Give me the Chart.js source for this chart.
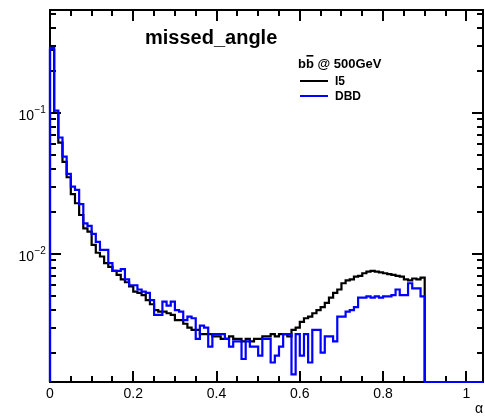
<!DOCTYPE html>
<html>
<head>
<meta charset="utf-8">
<script src="https://cdn.jsdelivr.net/npm/chart.js@4.4.1/dist/chart.umd.min.js"></script>
<style>
  html, body { margin: 0; padding: 0; background: #fff; }
  #wrap { width: 485px; height: 416px; position: relative; }
</style>
</head>
<body>
<div id="wrap"><canvas id="missedAngle"></canvas></div>
<script>
// histogram binning: 90 bins of 0.01 starting at 0
const binWidth = 0.01;

const i5Values = [
  0.28, 0.100, 0.0616, 0.045, 0.035, 0.0266, 0.0229, 0.0189, 0.0152, 0.0144,
  0.0116, 0.0102, 0.0096, 0.0086, 0.0081, 0.0076, 0.0071, 0.0066, 0.0063, 0.0059,
  0.0054, 0.0053, 0.0051, 0.0047, 0.0044, 0.0040, 0.0039, 0.0039, 0.0038, 0.0037,
  0.0034, 0.0034, 0.0032, 0.0030, 0.0029, 0.0029, 0.0027, 0.0027, 0.0027, 0.0026,
  0.0026, 0.0025, 0.0025, 0.0026, 0.0025, 0.0025, 0.0024, 0.0025, 0.0024, 0.0025,
  0.0025, 0.0026, 0.0026, 0.0027, 0.0026, 0.0027, 0.0027, 0.0026, 0.0029, 0.0030,
  0.0033, 0.0035, 0.0036, 0.0038, 0.0040, 0.0042, 0.0045, 0.0049, 0.0053, 0.0056,
  0.0062, 0.0065, 0.0066, 0.0069, 0.0070, 0.0073, 0.0075, 0.0076, 0.0075, 0.0074,
  0.0073, 0.0072, 0.0071, 0.0070, 0.0069, 0.0066, 0.0065, 0.0067, 0.0066, 0.0068
];

const dbdValues = [
  0.29, 0.104, 0.067, 0.049, 0.037, 0.030, 0.0285, 0.0226, 0.0165, 0.0158,
  0.0139, 0.0122, 0.0107, 0.0107, 0.0086, 0.0076, 0.0076, 0.0078, 0.0066, 0.0060,
  0.0060, 0.0056, 0.0054, 0.0053, 0.0047, 0.0037, 0.0037, 0.0046, 0.0043, 0.0046,
  0.0040, 0.0039, 0.0034, 0.0036, 0.0035, 0.0025, 0.0031, 0.0030, 0.0022, 0.0027,
  0.0027, 0.0027, 0.0025, 0.0022, 0.0024, 0.0024, 0.0018, 0.0024, 0.0022, 0.0022,
  0.0019, 0.0025, 0.0025, 0.0017, 0.0019, 0.0022, 0.0027, 0.0027, 0.0014, 0.0027,
  0.0019, 0.0027, 0.0017, 0.0029, 0.0029, 0.0020, 0.0026, 0.0026, 0.0024, 0.0036,
  0.0036, 0.0039, 0.0040, 0.0042, 0.0049, 0.0049, 0.0050, 0.0049, 0.0050, 0.0049,
  0.0050, 0.0050, 0.0051, 0.0056, 0.0051, 0.0051, 0.0062, 0.0057, 0.0057, 0.0050
];

const seriesNames = ['I5', 'DBD'];
const seriesColors = ['#000000', '#0000ff'];
const legendQuarks = 'bb';          // second b carries an overline (anti-quark)
const legendEnergy = ' @ 500GeV';
const plotTitle = 'missed_angle';
const xAxisTitle = '\u03b1';

const xMin = 0, xMax = 1.04;
const yMin = 0.001236, yMax = 0.5375;
const yLabelValues = [0.1, 0.01];
const yLabelExponents = ['\u22121', '\u22122'];

const FONT = "'Liberation Sans', Arial, Helvetica, sans-serif";

// step outline like a ROOT histogram: rises from the floor at x=0, drops back at the last edge
function histPoints(values) {
  const pts = [{ x: 0, y: yMin }];
  values.forEach((v, i) => pts.push({ x: i * binWidth, y: v }));
  const end = values.length * binWidth;
  pts.push({ x: end, y: yMin });
  pts.push({ x: xMax, y: yMin });
  return pts;
}

const rootFrame = {
  id: 'rootFrame',
  beforeDatasetsDraw(chart) {
    const { ctx, chartArea: a, scales: { x, y } } = chart;
    ctx.save();
    ctx.strokeStyle = '#000';
    ctx.lineWidth = 2;
    ctx.strokeRect(a.left, a.top, a.right - a.left, a.bottom - a.top);

    ctx.beginPath();
    for (let k = 0; k * 0.05 <= xMax; k++) {
      const px = Math.round(x.getPixelForValue(k * 0.05));
      const len = k % 4 === 0 ? 11 : 6;
      ctx.moveTo(px, a.bottom); ctx.lineTo(px, a.bottom - len);
      ctx.moveTo(px, a.top); ctx.lineTo(px, a.top + len);
    }
    for (let e = -3; e <= -1; e++) {
      for (let m = 1; m <= 9; m++) {
        const v = m * Math.pow(10, e);
        if (v < yMin || v > yMax) continue;
        const py = Math.round(y.getPixelForValue(v));
        const len = m === 1 ? 11 : 6;
        ctx.moveTo(a.left, py); ctx.lineTo(a.left + len, py);
        ctx.moveTo(a.right, py); ctx.lineTo(a.right - len, py);
      }
    }
    ctx.stroke();
    ctx.restore();
  },
  afterDraw(chart) {
    const { ctx, scales: { y } } = chart;
    ctx.save();
    ctx.fillStyle = '#000';
    ctx.textBaseline = 'alphabetic';

    // y decade labels 10^-n
    yLabelValues.forEach((v, i) => {
      const py = y.getPixelForValue(v);
      ctx.font = '14px ' + FONT;
      ctx.textAlign = 'right';
      ctx.fillText('10', 34, py + 7);
      ctx.font = '10px ' + FONT;
      ctx.textAlign = 'left';
      ctx.fillText(yLabelExponents[i], 34.5, py);
    });

    ctx.textAlign = 'left';
    ctx.font = '14px ' + FONT;
    ctx.fillText(xAxisTitle, 475, 413);

    ctx.font = 'bold 20px ' + FONT;
    ctx.fillText(plotTitle, 145, 44);

    // legend header: b b-bar @ 500GeV
    ctx.font = 'bold 13px ' + FONT;
    const hx = 298, hy = 68;
    ctx.fillText(legendQuarks, hx, hy);
    const bW = ctx.measureText('b').width;
    ctx.fillRect(hx + bW + 0.5, hy - 13, bW - 1, 1.6);
    ctx.fillText(legendEnergy, hx + ctx.measureText(legendQuarks).width, hy);

    ctx.font = 'bold 12px ' + FONT;
    const rows = [81, 96];
    seriesNames.forEach((name, i) => {
      ctx.strokeStyle = seriesColors[i];
      ctx.lineWidth = 2;
      ctx.beginPath();
      ctx.moveTo(300, rows[i]);
      ctx.lineTo(328, rows[i]);
      ctx.stroke();
      ctx.fillText(name, 335, rows[i] + 4);
    });
    ctx.restore();
  }
};

new Chart(document.getElementById('missedAngle'), {
  type: 'line',
  data: {
    datasets: [
      {
        label: seriesNames[0],
        data: histPoints(i5Values),
        borderColor: seriesColors[0],
        clip: 3,
        order: 1
      },
      {
        label: seriesNames[1],
        data: histPoints(dbdValues),
        borderColor: seriesColors[1],
        clip: 3,
        order: 0
      }
    ]
  },
  options: {
    responsive: true,
    maintainAspectRatio: false,
    animation: false,
    devicePixelRatio: 1,
    layout: { padding: { left: 50, top: 10, right: 2, bottom: 0 } },
    elements: {
      line: { borderWidth: 2.2, stepped: 'before', tension: 0, fill: false },
      point: { radius: 0, hoverRadius: 0 }
    },
    plugins: {
      legend: { display: false },
      tooltip: { enabled: false }
    },
    scales: {
      x: {
        type: 'linear',
        min: xMin,
        max: xMax,
        grid: { display: false, drawTicks: false },
        border: { display: false },
        ticks: {
          stepSize: 0.2,
          includeBounds: false,
          autoSkip: false,
          maxRotation: 0,
          padding: 4,
          color: '#000',
          font: { family: FONT, size: 14 },
          callback: function(value) { return String(Number(value.toFixed(1))); }
        },
        afterFit: function(scale) { scale.height = 34; }
      },
      y: {
        type: 'logarithmic',
        min: yMin,
        max: yMax,
        display: false
      }
    }
  },
  plugins: [rootFrame]
});
</script>
</body>
</html>
